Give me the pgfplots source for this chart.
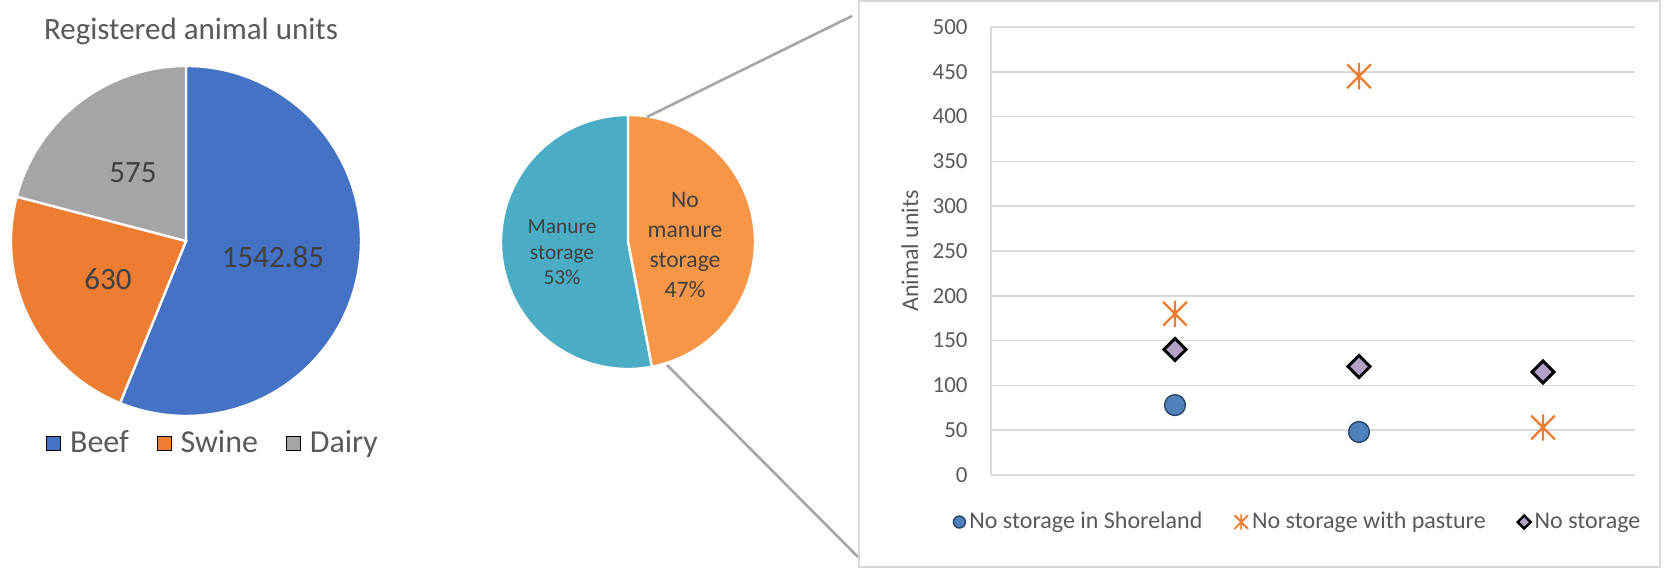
\documentclass[border=0pt]{standalone}
\usepackage{fontspec}
\setmainfont{Carlito}
\usepackage{pgfplots}
\pgfplotsset{compat=1.18}
\usepackage{pgfplotstable}

\definecolor{beef}{HTML}{4472C4}
\definecolor{swine}{HTML}{ED7D31}
\definecolor{dairy}{HTML}{A5A5A5}
\definecolor{storagecyan}{HTML}{4BACC6}
\definecolor{nostorageorange}{HTML}{F79646}
\definecolor{labeldark}{HTML}{404040}
\definecolor{textgray}{HTML}{595959}
\definecolor{gridgray}{HTML}{D9D9D9}
\definecolor{connector}{HTML}{A6A6A6}
\definecolor{circfill}{HTML}{4F81BD}
\definecolor{circdraw}{HTML}{2A4466}
\definecolor{lavender}{HTML}{B3A2C7}
\definecolor{starorange}{HTML}{ED7D31}

% star marker: vertical bar crossed by an X
\pgfdeclareplotmark{xstar}{%
  \pgfpathmoveto{\pgfqpoint{0pt}{\pgfplotmarksize}}%
  \pgfpathlineto{\pgfqpoint{0pt}{-\pgfplotmarksize}}%
  \pgfpathmoveto{\pgfqpoint{-.9\pgfplotmarksize}{-.9\pgfplotmarksize}}%
  \pgfpathlineto{\pgfqpoint{.9\pgfplotmarksize}{.9\pgfplotmarksize}}%
  \pgfpathmoveto{\pgfqpoint{-.9\pgfplotmarksize}{.9\pgfplotmarksize}}%
  \pgfpathlineto{\pgfqpoint{.9\pgfplotmarksize}{-.9\pgfplotmarksize}}%
  \pgfusepathqstroke}

\pgfplotsset{
  dotlegend/.style={legend image code/.code={\draw[##1] plot coordinates {(0pt,0pt)};}},
}

% registered animal units
\pgfplotstableread{
animal value
Beef   1542.85
Swine  630
Dairy  575
}\herdtable

% share of operations with / without manure storage (percent)
\pgfplotstableread{
group     share
NoStorage 47
Storage   53
}\storagetable

\pgfplotstablegetelem{0}{value}\of\herdtable \edef\vBeef{\pgfplotsretval}
\pgfplotstablegetelem{1}{value}\of\herdtable \edef\vSwine{\pgfplotsretval}
\pgfplotstablegetelem{2}{value}\of\herdtable \edef\vDairy{\pgfplotsretval}
\pgfmathsetmacro{\herdtotal}{\vBeef+\vSwine+\vDairy}
\pgfmathsetmacro{\aA}{90}
\pgfmathsetmacro{\aB}{\aA-360*(\vBeef/\herdtotal)}
\pgfmathsetmacro{\aC}{\aB-360*(\vSwine/\herdtotal)}
\pgfmathsetmacro{\aD}{\aC-360*(\vDairy/\herdtotal)}

\pgfplotstablegetelem{0}{share}\of\storagetable \edef\vNo{\pgfplotsretval}
\pgfplotstablegetelem{1}{share}\of\storagetable \edef\vYes{\pgfplotsretval}
\pgfmathsetmacro{\sTot}{\vNo+\vYes}
\pgfmathsetmacro{\bA}{90}
\pgfmathsetmacro{\bB}{\bA-360*(\vNo/\sTot)}
\pgfmathsetmacro{\bC}{\bB-360*(\vYes/\sTot)}

\begin{document}
\begin{tikzpicture}
\useasboundingbox (0,0) rectangle (832.5pt,285.5pt);

% title of the herd pie
\node[anchor=base, text=textgray, font=\fontsize{15.5}{18}\selectfont]
  at (95.5pt,265.5pt) {Registered animal units};

% ---------- herd pie ----------
\begin{axis}[
  at={(93pt,165pt)}, anchor=center,
  x=1pt, y=1pt, xmin=-88, xmax=88, ymin=-88, ymax=88,
  hide axis, clip=false,
  legend columns=3,
  legend image code/.code={\fill[#1] (0pt,-3.5pt) rectangle (7pt,3.5pt); \path (9.5pt,0pt);},
  legend style={at={(0.58,-0.074)}, anchor=center, draw=none, fill=none,
    font=\fontsize{16}{18}\selectfont, text=textgray,
    /tikz/every even column/.append style={column sep=12pt}},
]
\addlegendimage{fill=beef}\addlegendentry{Beef}
\addlegendimage{fill=swine}\addlegendentry{Swine}
\addlegendimage{fill=dairy}\addlegendentry{Dairy}
\fill[beef, draw=white, line width=1.2pt] (axis cs:0,0) -- (axis cs:{87.5*cos(\aA)},{87.5*sin(\aA)})
  arc[start angle=\aA, end angle=\aB, radius=87.5pt] -- cycle;
\fill[swine, draw=white, line width=1.2pt] (axis cs:0,0) -- (axis cs:{87.5*cos(\aB)},{87.5*sin(\aB)})
  arc[start angle=\aB, end angle=\aC, radius=87.5pt] -- cycle;
\fill[dairy, draw=white, line width=1.2pt] (axis cs:0,0) -- (axis cs:{87.5*cos(\aC)},{87.5*sin(\aC)})
  arc[start angle=\aC, end angle=\aD, radius=87.5pt] -- cycle;
\node[anchor=base, text=labeldark, font=\fontsize{15.5}{18}\selectfont] at (axis cs:43.5,-13.5) {1542.85};
\node[anchor=base, text=labeldark, font=\fontsize{15.5}{18}\selectfont] at (axis cs:-39,-24.5) {630};
\node[anchor=base, text=labeldark, font=\fontsize{15.5}{18}\selectfont] at (axis cs:-26.5,29) {575};
\end{axis}

% ---------- storage pie ----------
\begin{axis}[
  at={(314pt,164.5pt)}, anchor=center,
  x=1pt, y=1pt, xmin=-64, xmax=64, ymin=-64, ymax=64,
  hide axis, clip=false,
]
\fill[nostorageorange, draw=white, line width=1.2pt] (axis cs:0,0) -- (axis cs:{63.5*cos(\bA)},{63.5*sin(\bA)})
  arc[start angle=\bA, end angle=\bB, radius=63.5pt] -- cycle;
\fill[storagecyan, draw=white, line width=1.2pt] (axis cs:0,0) -- (axis cs:{63.5*cos(\bB)},{63.5*sin(\bB)})
  arc[start angle=\bB, end angle=\bC, radius=63.5pt] -- cycle;
\node[align=center, text=labeldark, font=\fontsize{11.8}{15}\selectfont] at (axis cs:28.5,-1.5)
  {No\\manure\\storage\\47\%};
\node[align=center, text=labeldark, font=\fontsize{10.7}{12.75}\selectfont] at (axis cs:-33,-5.25)
  {Manure\\storage\\53\%};
\end{axis}

% connector lines to the detail panel
\draw[connector, line width=1.3pt] (323.5pt,227pt) -- (426pt,277.5pt);
\draw[connector, line width=1.3pt] (333.5pt,103pt) -- (429pt,7pt);
% detail panel frame
\draw[gridgray, line width=0.8pt] (429.5pt,2pt) rectangle (830pt,285pt);

% ---------- detail scatter ----------
\begin{axis}[
  at={(495.5pt,48pt)}, anchor=south west,
  scale only axis, width=322pt, height=224pt,
  xmin=0, xmax=3.5, ymin=0, ymax=500,
  xtick=\empty, ytick={0,50,...,500},
  ymajorgrids, grid style={gridgray, line width=0.75pt},
  axis x line*=bottom, axis y line*=left,
  axis line style={gridgray, line width=0.75pt, -},
  major tick length=0pt,
  /pgf/number format/assume math mode=true,
  yticklabel style={font=\fontsize{11.5}{13}\selectfont, text=textgray, inner sep=0pt, xshift=-11.5pt},
  ylabel={Animal units},
  ylabel style={at={(axis description cs:-0.1258,0.5)}, anchor=center,
    font=\fontsize{12}{14}\selectfont, text=textgray},
  clip=false,
  legend columns=3,
  legend style={at={(0.478,-0.105)}, anchor=center, draw=none, fill=none,
    font=\fontsize{12}{14}\selectfont, text=textgray,
    nodes={inner xsep=2pt},
    /tikz/every even column/.append style={column sep=14pt}},
]
\addplot[only marks, mark=*, mark size=5.2pt,
  mark options={fill=circfill, draw=circdraw, line width=0.7pt},
  dotlegend, legend image post style={mark size=3pt}]
  coordinates {(1,78) (2,48)};
\addlegendentry{No storage in Shoreland}
\addplot[only marks, mark=xstar, mark size=6.6pt,
  mark options={draw=starorange, line width=1.1pt},
  dotlegend, legend image post style={mark size=3.8pt, every mark/.append style={line width=0.9pt}}]
  coordinates {(1,180) (2,445) (3,53)};
\addlegendentry{No storage with pasture}
\addplot[only marks, mark=square*, mark size=3.9pt,
  mark options={rotate=45, fill=lavender, draw=black, line width=1.5pt},
  dotlegend, legend image post style={mark size=2.3pt, every mark/.append style={line width=1.2pt}}]
  coordinates {(1,140) (2,121) (3,115)};
\addlegendentry{No storage}
\end{axis}
\end{tikzpicture}
\end{document}
